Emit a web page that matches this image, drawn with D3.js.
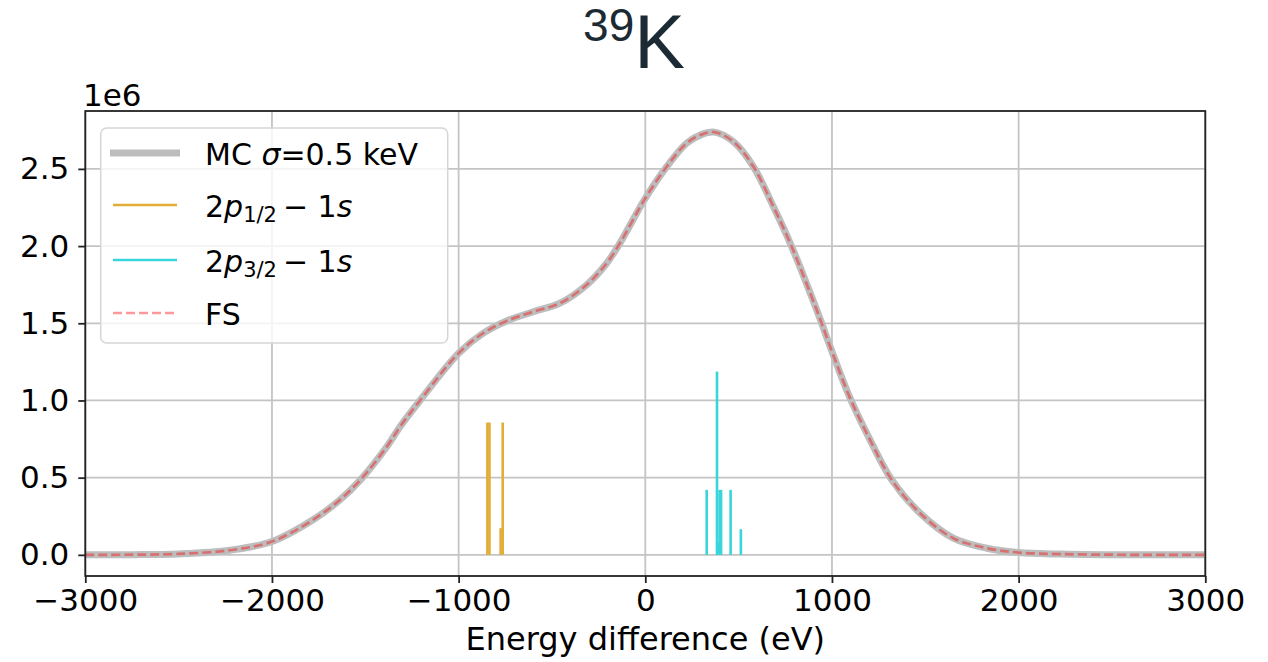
<!DOCTYPE html>
<html>
<head>
<meta charset="utf-8">
<script src="https://cdn.jsdelivr.net/npm/d3@7"></script>
<style>
  html, body { margin: 0; padding: 0; background: #fff; }
  svg { display: block; }
  text { font-family: "DejaVu Sans", sans-serif; fill: #000; }
</style>
</head>
<body>
<svg id="chart" width="1268" height="662"></svg>
<script>
// Data (intensity in units of 1e6)
const curveEnergy = [-3000, -2750, -2500, -2225, -2000, -1780, -1636, -1520, -1385, -1314, -1210, -1000, -868, -743, -600, -457, -314, -207, -136, 0, 115, 222, 300, 370, 471, 579, 686, 784, 918, 1000, 1097, 1204, 1320, 1472, 1650, 1829, 2000, 2222, 2500, 2750, 3000];
const curveIntensity = [0.0, 0.001, 0.006, 0.03, 0.086, 0.227, 0.356, 0.494, 0.70, 0.83, 0.995, 1.306, 1.436, 1.515, 1.575, 1.63, 1.749, 1.889, 2.019, 2.31, 2.515, 2.667, 2.722, 2.738, 2.677, 2.515, 2.256, 1.997, 1.587, 1.317, 1.015, 0.745, 0.486, 0.27, 0.108, 0.043, 0.015, 0.005, 0.001, 0.0, 0.0];

const p12Energy = [-846, -835, -775, -764];
const p12Intensity = [0.857, 0.857, 0.173, 0.857];
const p32Energy = [329, 384, 390, 398, 406, 457, 512];
const p32Intensity = [0.421, 1.187, 0.08, 0.421, 0.421, 0.421, 0.166];

const xTicks = [-3000, -2000, -1000, 0, 1000, 2000, 3000];
const yTicks = [0, 0.5, 1.0, 1.5, 2.0, 2.5];

// Layout
const plotLeft = 85.3, plotRight = 1205.3, plotTop = 111, plotBottom = 576;

const svg = d3.select("#chart");

const x = d3.scaleLinear().domain([-3000, 3000]).range([plotLeft, plotRight]);
const y = d3.scaleLinear().domain([-0.137, 2.875]).range([plotBottom, plotTop]);

// Grid
const grid = svg.append("g");
grid.selectAll(".gx").data(xTicks).join("line")
  .attr("x1", d => x(d)).attr("x2", d => x(d))
  .attr("y1", plotTop).attr("y2", plotBottom)
  .attr("stroke", "#c4c4c4").attr("stroke-width", 1.8);
grid.selectAll(".gy").data(yTicks).join("line")
  .attr("x1", plotLeft).attr("x2", plotRight)
  .attr("y1", d => y(d)).attr("y2", d => y(d))
  .attr("stroke", "#c4c4c4").attr("stroke-width", 1.8);

// Stems
const p12 = p12Energy.map((e, i) => ({ e, v: p12Intensity[i] }));
const p32 = p32Energy.map((e, i) => ({ e, v: p32Intensity[i] }));

svg.append("g").selectAll("line").data(p12).join("line")
  .attr("x1", d => x(d.e)).attr("x2", d => x(d.e))
  .attr("y1", y(0)).attr("y2", d => y(d.v))
  .attr("stroke", "#e3ae38").attr("stroke-width", 2.6);

svg.append("g").selectAll("line").data(p32).join("line")
  .attr("x1", d => x(d.e)).attr("x2", d => x(d.e))
  .attr("y1", y(0)).attr("y2", d => y(d.v))
  .attr("stroke", "#38d5db").attr("stroke-width", 2.6);

// Curves
const pts = curveEnergy.map((e, i) => [e, curveIntensity[i]]);
const line = d3.line().x(d => x(d[0])).y(d => y(d[1])).curve(d3.curveCatmullRom.alpha(0.5));

svg.append("clipPath").attr("id", "clip")
  .append("rect").attr("x", plotLeft).attr("y", plotTop)
  .attr("width", plotRight - plotLeft).attr("height", plotBottom - plotTop);

svg.append("path").datum(pts)
  .attr("d", line).attr("fill", "none")
  .attr("stroke", "#bdbdbd").attr("stroke-width", 7)
  .attr("clip-path", "url(#clip)");
svg.append("path").datum(pts)
  .attr("d", line).attr("fill", "none")
  .attr("stroke", "red").attr("stroke-opacity", 0.4).attr("stroke-width", 2.7)
  .attr("stroke-dasharray", "9,4")
  .attr("clip-path", "url(#clip)");

// Frame
svg.append("rect")
  .attr("x", plotLeft).attr("y", plotTop)
  .attr("width", plotRight - plotLeft).attr("height", plotBottom - plotTop)
  .attr("fill", "none").attr("stroke", "#222").attr("stroke-width", 1.8);

// Axes
const fmtX = d => d3.format("d")(d).replace("-", "\u2212");
const xAxis = d3.axisBottom(x).tickValues(xTicks).tickFormat(fmtX).tickSize(7).tickPadding(6);
const yAxis = d3.axisLeft(y).tickValues(yTicks).tickFormat(d3.format(".1f")).tickSize(7).tickPadding(9);

const gx = svg.append("g").attr("transform", `translate(0,${plotBottom})`).call(xAxis);
const gy = svg.append("g").attr("transform", `translate(${plotLeft},0)`).call(yAxis);
[gx, gy].forEach(g => {
  g.select(".domain").remove();
  g.selectAll(".tick line").attr("stroke", "#222").attr("stroke-width", 1.8);
  g.selectAll(".tick text").attr("font-size", 31).attr("font-family", "DejaVu Sans").attr("fill", "#000");
});

// Axis labels
svg.append("text").attr("x", (plotLeft + plotRight) / 2).attr("y", 650)
  .attr("text-anchor", "middle").attr("font-size", 32)
  .text("Energy difference (eV)");
svg.append("text").attr("x", 83).attr("y", 106)
  .attr("font-size", 31).text("1e6");

// Title
const title = svg.append("text").attr("x", 634).attr("y", 68)
  .attr("text-anchor", "middle")
  .style("font-family", "'Liberation Sans', Arial, sans-serif")
  .style("fill", "#1b2a33");
title.append("tspan").attr("font-size", 46).attr("dy", -27).text("39");
title.append("tspan").attr("font-size", 76).attr("dy", 27).text("K");

// Legend
const lg = svg.append("g");
lg.append("rect").attr("x", 100.7).attr("y", 128).attr("width", 347).attr("height", 215)
  .attr("rx", 6).attr("fill", "#fff").attr("fill-opacity", 0.8)
  .attr("stroke", "#d6d6d6").attr("stroke-width", 1.5);

const legendY = [153, 205, 260, 313];
lg.append("line").attr("x1", 110).attr("x2", 180).attr("y1", legendY[0]).attr("y2", legendY[0])
  .attr("stroke", "#bdbdbd").attr("stroke-width", 7);
lg.append("line").attr("x1", 113).attr("x2", 177).attr("y1", legendY[1]).attr("y2", legendY[1])
  .attr("stroke", "#e3ae38").attr("stroke-width", 2.6);
lg.append("line").attr("x1", 113).attr("x2", 177).attr("y1", legendY[2]).attr("y2", legendY[2])
  .attr("stroke", "#38d5db").attr("stroke-width", 2.6);
lg.append("line").attr("x1", 113).attr("x2", 177).attr("y1", legendY[3]).attr("y2", legendY[3])
  .attr("stroke", "red").attr("stroke-opacity", 0.4).attr("stroke-width", 2.7)
  .attr("stroke-dasharray", "9,4");

const fs = 30;
const t0 = lg.append("text").attr("x", 205).attr("y", legendY[0] + 12).attr("font-size", fs);
t0.append("tspan").text("MC ");
t0.append("tspan").attr("font-style", "italic").text("\u03C3");
t0.append("tspan").text("=0.5 keV");

function orbital(yy, sub) {
  const t = lg.append("text").attr("x", 205).attr("y", yy + 12).attr("font-size", fs);
  t.append("tspan").text("2");
  t.append("tspan").attr("font-style", "italic").text("p");
  t.append("tspan").attr("font-size", 21).attr("dy", 5).text(sub);
  t.append("tspan").attr("dy", -5).attr("dx", 6).text("\u2212 1");
  t.append("tspan").attr("font-style", "italic").text("s");
}
orbital(legendY[1], "1/2");
orbital(legendY[2], "3/2");

lg.append("text").attr("x", 205).attr("y", legendY[3] + 12).attr("font-size", fs).text("FS");
</script>
</body>
</html>
